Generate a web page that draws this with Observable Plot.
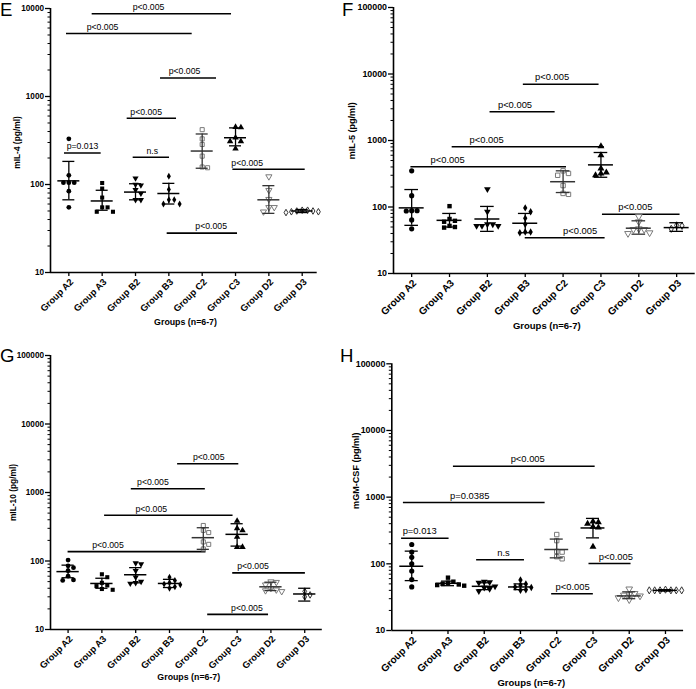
<!DOCTYPE html>
<html><head><meta charset="utf-8">
<script src="https://cdn.jsdelivr.net/npm/d3@7"></script>
<script src="https://cdn.jsdelivr.net/npm/@observablehq/plot@0.6"></script>
<style>
body{margin:0;background:#fff;}
#root{position:relative;width:696px;height:689px;font-family:"Liberation Sans",Arial,sans-serif;overflow:hidden;}
.panel{position:absolute;}
.letter{position:absolute;font-size:18.6px;line-height:1.12;font-family:"Liberation Sans",Arial,sans-serif;color:#000;}
</style></head><body><div id="root"></div>
<script>
const groups = ["Group A2","Group A3","Group B2","Group B3","Group C2","Group C3","Group D2","Group D3"];

// Panel E – mIL-4
const il4Points = [
  [330,127,105,105,105,84,55],
  [104,90,71,55,49,49,55],
  [118,100,98,87,79,67,67],
  [124,88,67,67,60,60],
  [420,330,285,210,158,155],
  [445,450,340,310,310,255],
  [123,86,68,55,55,49],
  [51,50,49,48,50,51,49]
];
const il4Mean = [110,65,82,79,240,340,67,50];
const il4SdLow = [67,51,67,60,153,275,47,48];
const il4SdHigh = [183,86,102,103,375,440,97,52];
// [label, from, to, level, labelAt]
const il4Brackets = [
  ["p<0.005",0.70,4.88,8700,2.39],
  ["p<0.005",-0.07,3.70,5200,1.01],
  ["p<0.005",2.75,4.43,1620,3.47],
  ["p<0.005",1.75,3.23,566,2.32],
  ["p=0.013",-0.13,0.97,228,0.41],
  ["n.s",1.93,3.02,204,2.5],
  ["p<0.005",4.92,7.09,149,5.35],
  ["p<0.005",2.95,5.06,28,4.27]
];

// Panel F – mIL-5
const il5Points = [
  [350,148,88,88,87,64,47],
  [103,66,62,60,50,49,52],
  [185,85,55,52,52,52,55],
  [97,85,68,55,42,41,42],
  [350,320,300,210,160,155],
  [820,600,380,330,300,320],
  [72,60,47,46,46,41,40],
  [53,47,52]
];
const il5Mean = [97,63,66,57,240,430,48,49];
const il5SdLow = [53,50,43,41,165,280,39,43];
const il5SdHigh = [183,80,102,80,350,660,62,58];
const il5Brackets = [
  ["p<0.005",2.95,4.95,7000,3.71],
  ["p<0.005",2.07,3.79,2700,2.73],
  ["p<0.005",1.07,5.09,807,1.98],
  ["p<0.005",-0.02,4.09,403,0.95],
  ["p<0.005",5.04,7.09,78,5.91],
  ["p<0.005",3.0,5.11,34.5,4.45]
];

// Panel G – mIL-10
const il10Points = [
  [103,85,80,72,60,53,52],
  [64,58,48,44,43,39,38],
  [93,90,72,58,50,48,47],
  [58,52,48,46,45,42,40],
  [330,280,260,190,175,150],
  [385,300,280,225,160,160],
  [50,49,45,40,38,37,36],
  [36,32,30]
];
const il10Mean = [70,47,63,47,219,245,42,33];
const il10SdLow = [57,40,48,41,148,165,37,26];
const il10SdHigh = [87,56,80,54,306,350,49,40];
const il10Brackets = [
  ["p<0.005",3.24,5.05,2630,4.16],
  ["p<0.005",1.87,4.06,1135,2.51],
  ["p<0.005",1.08,4.88,465,2.46],
  ["p<0.005",0.0,4.08,137,1.18],
  ["p<0.005",4.87,7.02,67,5.47],
  ["p<0.005",4.13,5.93,16.6,5.29]
];

// Panel H – mGM-CSF
const gmcsfPoints = [
  [195,150,125,100,78,58,45],
  [62,54,52,50,49,48,47],
  [54,53,52,46,44,42,39],
  [57,50,48,45,44,41,40],
  [275,223,153,150,128,119],
  [430,420,400,360,350,180],
  [42,36,35,34,33,31,29],
  [41,40,40,40,40,40,40]
];
const gmcsfMean = [92,51,46,45,164,345,33,40];
const gmcsfSdLow = [56,47,41,41,123,245,30,39];
const gmcsfSdHigh = [155,55,52,50,235,480,38,41];
const gmcsfBrackets = [
  ["p<0.005",1.15,5.06,2900,3.2],
  ["p=0.0385",-0.23,3.68,830,1.6],
  ["p=0.013",-0.28,1.03,242,0.22],
  ["n.s",1.79,3.11,115,2.53],
  ["p<0.005",4.89,6.05,101,5.63],
  ["p<0.005",3.86,5.01,35.5,4.44]
];

const sqrt3 = Math.sqrt(3);
const triangleDown = {draw(ctx, size) {
  const y = -Math.sqrt(size / (sqrt3 * 3));
  ctx.moveTo(0, -y * 2);
  ctx.lineTo(-sqrt3 * y, y);
  ctx.lineTo(sqrt3 * y, y);
  ctx.closePath();
}};
const markerStyle = [
  {symbol: "circle", r: 2.4, fill: "#000", stroke: "none"},
  {symbol: "square", r: 2.3, fill: "#000", stroke: "none"},
  {symbol: triangleDown, r: 2.3, fill: "#000", stroke: "none"},
  {symbol: "diamond", r: 2.1, fill: "#000", stroke: "none"},
  {symbol: "square", r: 2.3, fill: "none", stroke: "#7a7a7a"},
  {symbol: "triangle", r: 2.4, fill: "#000", stroke: "none"},
  {symbol: triangleDown, r: 2.3, fill: "none", stroke: "#7a7a7a"},
  {symbol: "diamond", r: 2.0, fill: "none", stroke: "#333"}
];
const barColor = ["#000","#000","#000","#000","#333","#000","#333","#000"];

const panels = [
  {letter:"E", letterLeft:0, letterTop:0, yTitle:"mIL-4 (pg/ml)", points:il4Points, mean:il4Mean, low:il4SdLow, high:il4SdHigh, brackets:il4Brackets,
   left:0, top:0, width:348, height:345, ml:50, mr:31.3, mt:8, mb:73, xDomain:[-0.55,7.45], yDomain:[10,10000],
   yTitleAt:300, yTitleDx:33, xTitleAt:3.5, xTitleDy:50, fs:1},
  {letter:"F", letterLeft:342, letterTop:0, yTitle:"mIL-5 (pg/ml)", points:il5Points, mean:il5Mean, low:il5SdLow, high:il5SdHigh, brackets:il5Brackets,
   left:348, top:0, width:348, height:345, ml:45, mr:1.3, mt:7, mb:72, xDomain:[-0.48,7.49], yDomain:[10,100000],
   yTitleAt:1400, yTitleDx:41, xTitleAt:3.57, xTitleDy:52, fs:1.08},
  {letter:"G", letterLeft:0, letterTop:346, yTitle:"mIL-10 (pg/ml)", points:il10Points, mean:il10Mean, low:il10SdLow, high:il10SdHigh, brackets:il10Brackets,
   left:0, top:345, width:348, height:344, ml:50, mr:26.2, mt:10, mb:60, xDomain:[-0.52,7.52], yDomain:[10,100000],
   yTitleAt:1000, yTitleDx:37, xTitleAt:3.57, xTitleDy:48, fs:1},
  {letter:"H", letterLeft:340, letterTop:346, yTitle:"mGM-CSF (pg/ml)", points:gmcsfPoints, mean:gmcsfMean, low:gmcsfSdLow, high:gmcsfSdHigh, brackets:gmcsfBrackets,
   left:348, top:345, width:348, height:344, ml:43.3, mr:12.9, mt:18.3, mb:59, xDomain:[-0.55,7.5], yDomain:[10,100000],
   yTitleAt:2500, yTitleDx:36, xTitleAt:3.3, xTitleDy:52, fs:1.08}
];

function render(p) {
  const x0 = p.xDomain[0], x1 = p.xDomain[1];
  const yMin = p.yDomain[0], yMax = p.yDomain[1];
  const step = (p.width - p.ml - p.mr) / (x1 - x0);
  const decades = Math.log10(yMax / yMin);
  const decPx = (p.height - p.mt - p.mb) / decades;
  const yPix = v => Math.log10(v / yMin) * decPx;
  const below = px => yMin * Math.pow(10, -px / decPx);
  const idx = d3.range(groups.length);
  const s = p.fs;

  // horizontal spread of points that would overlap (deterministic swarm layout)
  const diam = 5.4;
  const pts = [];
  p.points.forEach((vals, g) => {
    const placed = [];
    [...vals].sort((a, b) => b - a).forEach(v => {
      const py = yPix(v);
      let off = 0;
      for (let k = 0; k < 40; k++) {
        const c = k === 0 ? 0 : (k % 2 ? 1 : -1) * Math.ceil(k / 2) * diam;
        if (placed.every(q => Math.hypot(q.x - c, q.y - py) >= diam * 0.9)) { off = c; break; }
      }
      placed.push({x: off, y: py});
      pts.push({g, v, x: g + off / step});
    });
  });

  const majors = d3.range(Math.round(decades) + 1).map(k => yMin * Math.pow(10, k));
  const minors = majors.slice(0, -1).flatMap(m => d3.range(2, 10).map(k => m * k));

  const marks = [
    // axes
    Plot.ruleX([x0], {x: d => d, y1: yMin, y2: yMax, strokeWidth: 1.6}),
    Plot.ruleY([yMin], {y: d => d, x1: x0, x2: x1, strokeWidth: 1.6}),
    Plot.ruleY(majors, {y: d => d, x1: x0, x2: x0 - 5 / step, strokeWidth: 1.3}),
    Plot.ruleY(minors, {y: d => d, x1: x0, x2: x0 - 2.5 / step, strokeWidth: 1}),
    Plot.ruleX(idx, {x: d => d, y1: yMin, y2: below(4), strokeWidth: 1.3}),
    Plot.text(majors, {x: x0 - 6.5 / step, y: d => d, text: d => String(d), textAnchor: "end",
      fontWeight: "bold", fontSize: 8.2 * s}),
    Plot.text(idx, {x: i => i + 3 / step, y: below(8), text: i => groups[i], rotate: -45, textAnchor: "end",
      fontWeight: "bold", fontSize: 9.3 * s}),
    Plot.text(["Groups (n=6-7)"], {x: p.xTitleAt, y: below(p.xTitleDy), text: d => d,
      fontWeight: "bold", fontSize: 8.8 * s}),
    Plot.text([p.yTitle], {x: x0 - p.yTitleDx / step, y: p.yTitleAt, text: d => d, rotate: -90,
      fontWeight: "bold", fontSize: 8.4 * s}),
    // significance brackets
    Plot.ruleY(p.brackets, {y: d => d[3], x1: d => d[1], x2: d => d[2], strokeWidth: 1.6}),
    Plot.text(p.brackets, {x: d => d[4], y: d => d[3], text: d => d[0], dy: -6.5 * s, fontSize: 8.7 * s})
  ];

  idx.forEach(g => {
    const st = markerStyle[g];
    marks.push(Plot.dot(pts.filter(d => d.g === g), {x: "x", y: "v", symbol: st.symbol, r: st.r * s,
      fill: st.fill, stroke: st.stroke, strokeWidth: 1}));
  });
  idx.forEach(g => {
    const c = barColor[g];
    marks.push(
      Plot.ruleX([g], {x: d => d, y1: p.low[g], y2: p.high[g], stroke: c, strokeWidth: 1.3}),
      Plot.ruleY([g], {y: p.mean[g], x1: g - 0.33, x2: g + 0.33, stroke: c, strokeWidth: 1.5}),
      Plot.ruleY([g], {y: p.high[g], x1: g - 0.18, x2: g + 0.18, stroke: c, strokeWidth: 1.3}),
      Plot.ruleY([g], {y: p.low[g], x1: g - 0.18, x2: g + 0.18, stroke: c, strokeWidth: 1.3})
    );
  });

  return Plot.plot({
    width: p.width, height: p.height,
    marginLeft: p.ml, marginRight: p.mr, marginTop: p.mt, marginBottom: p.mb,
    x: {type: "linear", domain: p.xDomain, axis: null},
    y: {type: "log", domain: p.yDomain, axis: null},
    style: {fontFamily: "'Liberation Sans', Arial, sans-serif", overflow: "visible", background: "none", color: "#000"},
    marks
  });
}

const root = document.getElementById("root");
panels.forEach(p => {
  const div = document.createElement("div");
  div.className = "panel";
  div.style.left = p.left + "px";
  div.style.top = p.top + "px";
  div.appendChild(render(p));
  root.appendChild(div);
});
panels.forEach(p => {
  const l = document.createElement("div");
  l.className = "letter";
  l.style.left = p.letterLeft + "px";
  l.style.top = p.letterTop + "px";
  l.textContent = p.letter;
  root.appendChild(l);
});
</script>
</body></html>
